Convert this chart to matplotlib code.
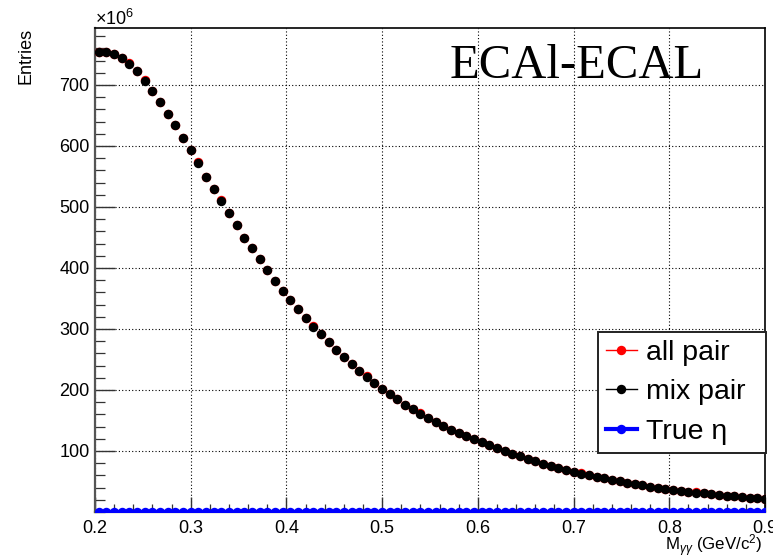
import matplotlib
matplotlib.use("Agg")
import matplotlib.pyplot as plt
from matplotlib.lines import Line2D
from matplotlib.ticker import MultipleLocator, FixedLocator

plt.rcParams['font.family'] = ['Liberation Sans', 'DejaVu Sans']
plt.rcParams['mathtext.fontset'] = 'custom'
plt.rcParams['mathtext.rm'] = 'Liberation Sans'
plt.rcParams['mathtext.it'] = 'Liberation Sans:italic'
plt.rcParams['mathtext.sf'] = 'Liberation Sans'

# ---------------- data (entries in units of 10^6) ----------------
mass = [0.204, 0.212, 0.220, 0.228, 0.236, 0.244, 0.252, 0.260, 0.268, 0.276,
        0.284, 0.292, 0.300, 0.308, 0.316, 0.324, 0.332, 0.340, 0.348, 0.356,
        0.364, 0.372, 0.380, 0.388, 0.396, 0.404, 0.412, 0.420, 0.428, 0.436,
        0.444, 0.452, 0.460, 0.468, 0.476, 0.484, 0.492, 0.500, 0.508, 0.516,
        0.524, 0.532, 0.540, 0.548, 0.556, 0.564, 0.572, 0.580, 0.588, 0.596,
        0.604, 0.612, 0.620, 0.628, 0.636, 0.644, 0.652, 0.660, 0.668, 0.676,
        0.684, 0.692, 0.700, 0.708, 0.716, 0.724, 0.732, 0.740, 0.748, 0.756,
        0.764, 0.772, 0.780, 0.788, 0.796, 0.804, 0.812, 0.820, 0.828, 0.836,
        0.844, 0.852, 0.860, 0.868, 0.876, 0.884, 0.892, 0.900]

mix_pair = [753.6, 754.6, 751.3, 744.8, 735.0, 722.4, 707.0, 690.7, 672.0, 653.0,
            634.0, 613.6, 593.4, 571.6, 549.7, 529.0, 509.8, 489.7, 470.0, 449.7,
            432.2, 414.2, 396.7, 379.2, 362.8, 347.5, 332.3, 318.5, 304.0, 291.3,
            278.5, 265.6, 254.0, 243.0, 231.5, 221.8, 212.0, 201.5, 193.0, 184.7,
            175.5, 168.3, 160.7, 153.6, 146.8, 140.8, 134.8, 129.5, 124.8, 120.0,
            115.0, 110.0, 104.5, 99.5, 95.0, 91.0, 87.0, 83.0, 79.2, 76.0,
            72.7, 69.2, 66.0, 63.0, 60.2, 57.8, 55.0, 52.5, 50.0, 47.7,
            45.5, 43.5, 41.5, 39.7, 38.0, 36.3, 34.7, 33.2, 31.8, 30.4,
            29.1, 27.9, 26.7, 25.6, 24.5, 23.5, 22.5, 21.6]

all_pair = [753.8, 754.8, 751.5, 745.0, 736.5, 722.6, 708.5, 690.9, 672.2, 653.2,
            634.2, 613.8, 593.6, 573.0, 549.9, 529.2, 511.3, 489.9, 470.2, 449.9,
            432.4, 414.4, 396.9, 379.4, 363.0, 347.7, 332.5, 318.7, 304.2, 291.5,
            278.7, 265.8, 254.2, 243.2, 231.7, 223.3, 212.2, 201.7, 193.2, 184.9,
            175.7, 168.5, 162.2, 153.8, 147.0, 141.0, 135.0, 129.7, 125.0, 120.2,
            115.2, 110.2, 104.7, 99.7, 95.2, 91.2, 87.2, 83.2, 79.4, 76.2,
            72.9, 69.4, 66.2, 63.2, 60.4, 58.0, 55.2, 52.7, 50.2, 47.9,
            45.7, 43.7, 41.7, 39.9, 38.2, 36.5, 34.9, 33.4, 32.0, 30.6,
            29.3, 28.1, 26.9, 25.8, 24.7, 23.7, 22.7, 21.8]

true_eta = [0.0, 0.0, 0.0, 0.0, 0.0, 0.0, 0.0, 0.0, 0.0, 0.0,
            0.0, 0.0, 0.0, 0.0, 0.0, 0.0, 0.0, 0.0, 0.0, 0.0,
            0.0, 0.0, 0.0, 0.0, 0.0, 0.0, 0.0, 0.0, 0.0, 0.0,
            0.0, 0.0, 0.0, 0.0, 0.0, 0.0, 0.0, 0.0, 0.0, 0.0,
            0.0, 0.0, 0.0, 0.0, 0.0, 0.0, 0.0, 0.0, 0.0, 0.0,
            0.0, 0.0, 0.0, 0.0, 0.0, 0.0, 0.0, 0.0, 0.0, 0.0,
            0.0, 0.0, 0.0, 0.0, 0.0, 0.0, 0.0, 0.0, 0.0, 0.0,
            0.0, 0.0, 0.0, 0.0, 0.0, 0.0, 0.0, 0.0, 0.0, 0.0,
            0.0, 0.0, 0.0, 0.0, 0.0, 0.0, 0.0, 0.0]

series_labels = ["all pair", "mix pair", "True \u03b7"]
x_ticks = [0.2, 0.3, 0.4, 0.5, 0.6, 0.7, 0.8, 0.9]
x_ticklabels = ["0.2", "0.3", "0.4", "0.5", "0.6", "0.7", "0.8", "0.9"]
y_ticks = [100, 200, 300, 400, 500, 600, 700]
y_ticklabels = ["100", "200", "300", "400", "500", "600", "700"]

# ---------------- figure ----------------
W, H = 773, 560
fig = plt.figure(figsize=(W / 100, H / 100), dpi=100)
ax = fig.add_axes([95 / W, 1 - 512 / H, (765 - 95) / W, (512 - 28) / H])

ax.set_xlim(0.2, 0.9)
ax.set_ylim(0, 793.4)

ms = 6.8
ax.plot(mass, true_eta, color='blue', lw=3, marker='o', ms=ms,
        markeredgewidth=0, clip_on=True, zorder=3)
ax.plot(mass, all_pair, ls='none', color='red', marker='o', ms=ms,
        markeredgewidth=0, zorder=4)
ax.plot(mass, mix_pair, ls='none', color='black', marker='o', ms=ms,
        markeredgewidth=0, zorder=5)

# ticks
ax.xaxis.set_major_locator(FixedLocator(x_ticks))
ax.set_xticklabels(x_ticklabels)
ax.xaxis.set_minor_locator(MultipleLocator(0.02))
ax.yaxis.set_major_locator(FixedLocator(y_ticks))
ax.set_yticklabels(y_ticklabels)
ax.yaxis.set_minor_locator(MultipleLocator(20))

ax.tick_params(axis='x', which='major', direction='in', length=10.5, width=1.0,
               labelsize=13, pad=6, color='#333333', top=False)
ax.tick_params(axis='x', which='minor', direction='in', length=5.5, width=0.9,
               color='#333333', top=False)
ax.tick_params(axis='y', which='major', direction='in', length=14.5, width=1.0,
               labelsize=13, pad=4, color='#333333', right=False)
ax.tick_params(axis='y', which='minor', direction='in', length=7.5, width=0.9,
               color='#333333', right=False)

ax.grid(True, which='major', color='black', ls=(0, (1, 2)), lw=0.8)
ax.set_axisbelow(True)

for s in ['left', 'bottom']:
    ax.spines[s].set_color('#555555')
    ax.spines[s].set_linewidth(1.6)
for s in ['top', 'right']:
    ax.spines[s].set_color('black')
    ax.spines[s].set_linewidth(1.2)

# texts
fig.text(26 / W, 1 - 28 / H, "Entries", rotation=90, ha='center', va='top', fontsize=13)
fig.text(95 / W, 1 - 25 / H, r"$\times$10$^{6}$", ha='left', va='baseline', fontsize=13)
fig.text(763 / W, 1 - 551 / H, r"M$_{\gamma\gamma}$ (GeV/c$^{2}$)", ha='right',
         va='baseline', fontsize=12.2)
fig.text(450 / W, 1 - 78 / H, "ECAl-ECAL", family=['Liberation Serif', 'DejaVu Serif'],
         fontsize=35, ha='left', va='baseline', zorder=6)

# legend
handles = [
    Line2D([], [], color='red', lw=1.0, marker='o', ms=ms, markeredgewidth=0),
    Line2D([], [], color='black', lw=1.0, marker='o', ms=ms, markeredgewidth=0),
    Line2D([], [], color='blue', lw=3.0, marker='o', ms=ms, markeredgewidth=0),
]
leg = fig.legend(handles, series_labels,
                 loc='upper left',
                 bbox_to_anchor=(598 / W, 1 - 452 / H, (766 - 598) / W, (452 - 332) / H),
                 mode='expand', fontsize=20.5, frameon=True, fancybox=False,
                 handlelength=1.1, handletextpad=0.3, labelspacing=0.48,
                 borderpad=0.27, borderaxespad=0.0)
leg.get_frame().set_edgecolor('#222222')
leg.get_frame().set_linewidth(1.4)
leg.get_frame().set_alpha(1.0)

fig.savefig("out.png", dpi=100)
